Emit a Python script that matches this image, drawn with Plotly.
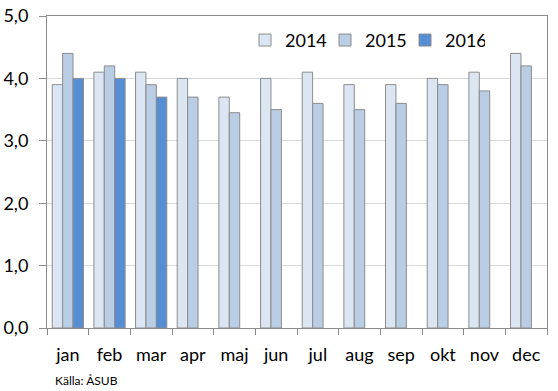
import plotly.graph_objects as go

months = ["jan", "feb", "mar", "apr", "maj", "jun", "jul", "aug", "sep", "okt", "nov", "dec"]
v2014 = [3.9, 4.1, 4.1, 4.0, 3.7, 4.0, 4.1, 3.9, 3.9, 4.0, 4.1, 4.4]
v2015 = [4.4, 4.2, 3.9, 3.7, 3.45, 3.5, 3.6, 3.5, 3.6, 3.9, 3.8, 4.2]
v2016 = [4.0, 4.0, 3.7]
y_ticks = [0, 1, 2, 3, 4, 5]
source = "Källa: ÅSUB"

font = "Lato, 'Open Sans', sans-serif"
outline = dict(color="#8c8c8c", width=1)

fig = go.Figure()
fig.add_bar(x=months, y=v2014, name="2014", marker=dict(color="#dce6f2", line=outline))
fig.add_bar(x=months, y=v2015, name="2015", marker=dict(color="#b9cde5", line=outline))
fig.add_bar(x=months[:len(v2016)], y=v2016, name="2016", marker=dict(color="#558ed5", line=outline))

fig.update_layout(
    width=558, height=391,
    margin=dict(l=47, r=11, t=16, b=63, autoexpand=False),
    paper_bgcolor="white", plot_bgcolor="white",
    barmode="group", bargap=0.25, bargroupgap=0,
    separators=", ",
    font=dict(family=font, size=18, color="#000000"),
    showlegend=True,
    legend=dict(orientation="h", x=0.396, y=0.922, xanchor="left", yanchor="middle",
                font=dict(size=18), bgcolor="rgba(0,0,0,0)", traceorder="normal",
                entrywidth=35, entrywidthmode="pixels"),
    xaxis=dict(showline=True, linecolor="#8c8c8c", linewidth=1, mirror=True,
               ticks="outside", tickson="boundaries", ticklen=6, tickcolor="#8c8c8c",
               showgrid=False, fixedrange=True, automargin=False, ticklabelstandoff=10),
    yaxis=dict(range=[0, 5], tickvals=y_ticks, tickformat=".1f",
               showline=True, linecolor="#8c8c8c", linewidth=1, mirror=True,
               ticks="outside", ticklen=7, tickcolor="#8c8c8c",
               showgrid=True, gridcolor="#d9d9d9", gridwidth=1,
               zeroline=False, ticklabelstandoff=7, automargin=False, fixedrange=True),
    annotations=[dict(text=source, xref="paper", yref="paper", x=0.012, y=-0.167,
                      xanchor="left", yanchor="middle", showarrow=False,
                      font=dict(size=12))],
)

fig.write_html("out.html", config={"displayModeBar": False},
               post_script="document.body.style.margin='0';")
